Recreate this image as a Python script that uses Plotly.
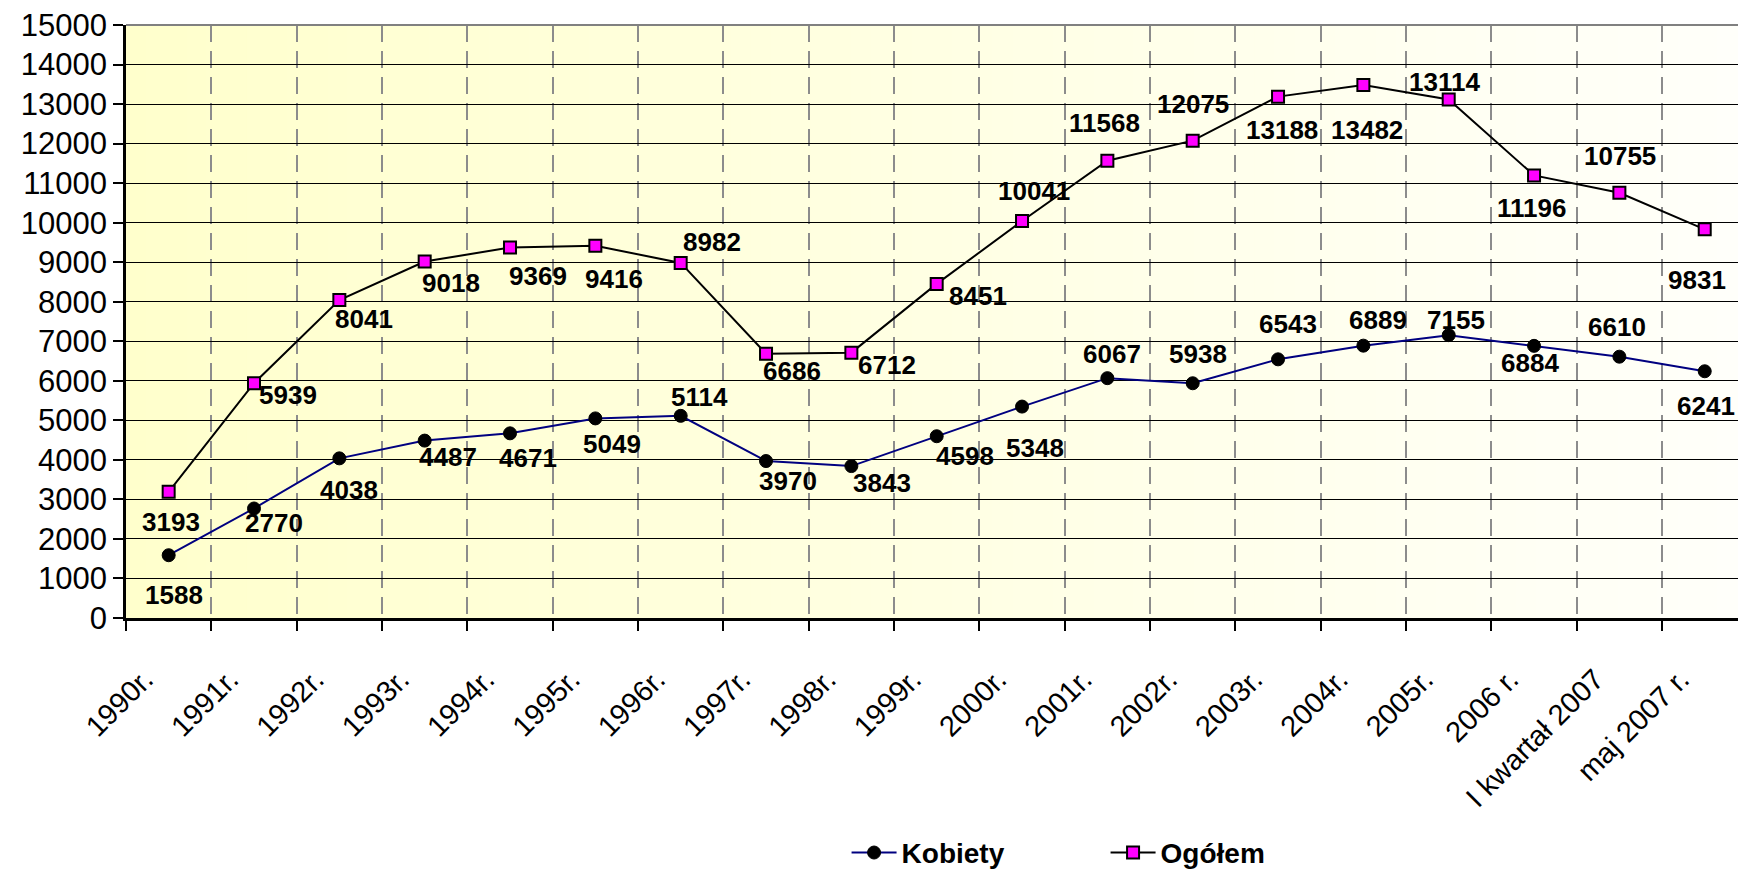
import plotly.graph_objects as go

categories = ["1990r.", "1991r.", "1992r.", "1993r.", "1994r.", "1995r.", "1996r.",
              "1997r.", "1998r.", "1999r.", "2000r.", "2001r.", "2002r.", "2003r.",
              "2004r.", "2005r.", "2006 r.", "I kwartał 2007", "maj 2007 r."]
kobiety = [1588, 2770, 4038, 4487, 4671, 5049, 5114, 3970, 3843, 4598, 5348,
           6067, 5938, 6543, 6889, 7155, 6884, 6610, 6241]
ogolem = [3193, 5939, 8041, 9018, 9369, 9416, 8982, 6686, 6712, 8451, 10041,
          11568, 12075, 13188, 13482, 13114, 11196, 10755, 9831]
y_ticks = list(range(0, 15001, 1000))

# label offsets in px (dx right, dy down) – styling only
kob_off = [(5, 40), (20, 15), (10, 32), (23, 16), (18, 25), (17, 26), (19, -19),
           (22, 20), (31, 17), (28, 20), (13, 41), (5, -24), (5, -29), (10, -35),
           (15, -26), (7, -15), (-4, 17), (-2, -30), (1, 35)]
ogo_off = [(2, 30), (34, 12), (25, 19), (26, 22), (28, 28), (19, 33), (31, -21),
           (26, 17), (36, 12), (41, 12), (12, -30), (-3, -38), (0, -37), (4, 33),
           (4, 45), (-4, -18), (-3, 33), (1, -37), (-8, 51)]

FONT = "Arial, Liberation Sans, sans-serif"

fig = go.Figure()
fig.add_trace(go.Scatter(
    x=categories, y=kobiety, name="Kobiety", mode="lines+markers",
    line=dict(color="#000080", width=2),
    marker=dict(symbol="circle", size=13, color="black", line=dict(color="black", width=1)),
))
fig.add_trace(go.Scatter(
    x=categories, y=ogolem, name="Ogółem", mode="lines+markers",
    line=dict(color="black", width=2),
    marker=dict(symbol="square", size=12, color="#FF00FF", line=dict(color="black", width=2)),
))

annotations = []
for vals, offs in ((kobiety, kob_off), (ogolem, ogo_off)):
    for c, v, (dx, dy) in zip(categories, vals, offs):
        annotations.append(dict(
            x=c, y=v, xref="x", yref="y", text=str(v), showarrow=False,
            xshift=dx, yshift=-dy,
            font=dict(family=FONT, size=26, color="black", weight="bold"),
        ))

# gradient background (pale yellow -> near white)
shapes = []
N = 80
c0 = (255, 255, 204)
c1 = (255, 255, 250)
for k in range(N):
    t = (k + 0.5) / N
    col = tuple(round(a + (b - a) * t) for a, b in zip(c0, c1))
    shapes.append(dict(
        type="rect", xref="x domain", yref="y domain",
        x0=k / N, x1=(k + 1) / N + 0.002, y0=0, y1=1,
        fillcolor="rgb(%d,%d,%d)" % col, line=dict(width=0), layer="below",
    ))
shapes.append(dict(type="line", xref="x domain", yref="y domain", x0=0, x1=1, y0=1, y1=1,
                   line=dict(color="#808080", width=2)))

fig.update_layout(
    width=1738, height=872,
    margin=dict(l=126, r=0, t=25, b=254, autoexpand=False),
    paper_bgcolor="white", plot_bgcolor="white",
    font=dict(family=FONT, color="black"),
    showlegend=True,
    legend=dict(
        orientation="h", x=0.447, y=-0.396, xanchor="left", yanchor="middle",
        font=dict(family=FONT, size=28, color="black", weight="bold"),
        bgcolor="rgba(0,0,0,0)", entrywidth=199, entrywidthmode="pixels",
        itemwidth=45,
    ),
    annotations=annotations,
    shapes=shapes,
)
fig.update_xaxes(
    type="category", range=[-0.5, 18.39], tickson="boundaries",
    showgrid=True, gridcolor="#8c8c8c", gridwidth=2, griddash="17px,9px",
    showline=True, linecolor="black", linewidth=2.5,
    ticks="outside", ticklen=10, tickwidth=2, tickcolor="black",
    tickangle=-45, tickfont=dict(family=FONT, size=29, color="black"),
    ticklabelstandoff=30, ticklabelshift=-24, automargin=False, fixedrange=True,
)
fig.update_yaxes(
    range=[0, 15000], tickvals=y_ticks, ticktext=[str(v) for v in y_ticks],
    showgrid=True, gridcolor="black", gridwidth=1, zeroline=False,
    showline=True, linecolor="black", linewidth=2.5,
    ticks="outside", ticklen=10, tickwidth=2, tickcolor="black",
    tickfont=dict(family=FONT, size=31, color="black"), automargin=False,
    fixedrange=True,
)

fig.write_html("out.html", config={"displayModeBar": False},
               post_script="document.body.style.margin='0px';")
